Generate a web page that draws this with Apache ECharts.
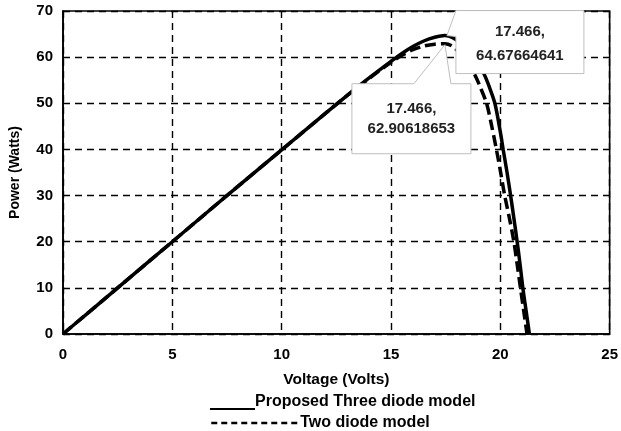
<!DOCTYPE html>
<html>
<head>
<meta charset="utf-8">
<script src="https://cdn.jsdelivr.net/npm/echarts@6/dist/echarts.min.js"></script>
<style>html,body{margin:0;padding:0;background:#fff;}#c{width:621px;height:431px;}</style>
</head>
<body>
<div id="c"></div>
<script>
// Voltage (V) and power (W)
const threeDiodeV = [0, 1, 2, 4, 6, 8, 10, 12, 13, 14, 15, 15.5, 16, 16.5, 17, 17.466, 17.8, 18.2, 18.6, 19.0, 19.27, 19.5, 19.75, 20.0, 20.13, 20.3, 20.47, 20.62, 20.77, 20.9, 21.03, 21.18, 21.33];
const threeDiodeP = [0, 4.0, 8.0, 16.0, 24.0, 32.0, 39.9, 47.8, 51.7, 55.5, 59.1, 60.8, 62.3, 63.5, 64.3, 64.67664641, 64.3, 63.0, 60.9, 58.2, 56.2, 53.5, 50.0, 43.8, 40.0, 35.2, 30.0, 25.1, 20.0, 15.2, 10.0, 5.0, 0];
const twoDiodeV = [0, 1, 2, 4, 6, 8, 10, 12, 13, 14, 15, 15.5, 16, 16.5, 17, 17.466, 17.8, 18.2, 18.5, 18.85, 19.1, 19.37, 19.6, 19.82, 20.0, 20.2, 20.42, 20.62, 20.77, 20.92, 21.07, 21.22];
const twoDiodeP = [0, 4.0, 8.0, 16.0, 24.0, 32.0, 39.9, 47.8, 51.7, 55.4, 58.9, 60.4, 61.6, 62.4, 62.8, 62.90618653, 62.4, 60.6, 58.6, 56.0, 53.3, 50.0, 45.2, 40.0, 35.4, 30.0, 25.0, 20.0, 15.1, 10.0, 5.0, 0];
const xTicks = [0, 5, 10, 15, 20, 25];
const yTicks = [0, 10, 20, 30, 40, 50, 60, 70];
const seriesNames = ['Proposed Three diode model', 'Two diode model'];
const peak3 = [17.466, 64.67664641];
const peak2 = [17.466, 62.90618653];

const FONT = 'Liberation Sans, Arial, sans-serif';
const chart = echarts.init(document.getElementById('c'));
const pair = (xs, ys) => xs.map((x, i) => [x, ys[i]]);

chart.setOption({
  animation: false,
  backgroundColor: '#fff',
  grid: { left: 59, right: 8, top: 11, bottom: 97, show: true, borderColor: '#000', borderWidth: 1.6, backgroundColor: 'transparent' },
  xAxis: {
    type: 'value', min: xTicks[0], max: xTicks[xTicks.length - 1], interval: 5,
    name: 'Voltage (Volts)', nameLocation: 'middle', nameGap: 38,
    nameTextStyle: { fontFamily: FONT, fontWeight: 'bold', fontSize: 15.5, color: '#000' },
    axisLine: { lineStyle: { color: '#000', width: 1.6 } },
    axisTick: { show: false },
    axisLabel: { fontFamily: FONT, fontWeight: 'bold', fontSize: 15, color: '#000', margin: 13 },
    splitLine: { show: true, lineStyle: { color: '#000', type: [7, 5], width: 1.4 } }
  },
  yAxis: {
    type: 'value', min: yTicks[0], max: yTicks[yTicks.length - 1], interval: 10,
    name: 'Power (Watts)', nameLocation: 'middle', nameGap: 41,
    nameTextStyle: { fontFamily: FONT, fontWeight: 'bold', fontSize: 14, color: '#000' },
    axisLine: { lineStyle: { color: '#000', width: 1.6 } },
    axisTick: { show: false },
    axisLabel: { fontFamily: FONT, fontWeight: 'bold', fontSize: 15, color: '#000', margin: 10 },
    splitLine: { show: true, lineStyle: { color: '#000', type: [7, 5], width: 1.4 } }
  },
  legend: [
    {
      data: [seriesNames[0]], left: 205, top: 389, itemWidth: 45, itemHeight: 16, itemGap: 2,
      icon: 'path://M0,0 L0.01,0 L0.01,0.01 Z M0,14 L45,14 L45,16 L0,16 Z',
      textStyle: { fontFamily: FONT, fontWeight: 'bold', fontSize: 16, color: '#000', padding: [0, 0, 0, -5] },
      itemStyle: { color: '#000' }
    },
    {
      data: [seriesNames[1]], left: 205, top: 410, itemWidth: 87, itemHeight: 14, itemGap: 2,
      textStyle: { fontFamily: FONT, fontWeight: 'bold', fontSize: 16, color: '#000', padding: [0, 0, 0, -3] },
      lineStyle: { color: '#000', width: 2.5, type: [6, 4] },
      itemStyle: { opacity: 0 }
    }
  ],
  series: [
    {
      name: seriesNames[0], type: 'line', data: pair(threeDiodeV, threeDiodeP), symbol: 'none', smooth: 0.3,
      lineStyle: { color: '#000', width: 3.5 }, itemStyle: { color: '#000' }, z: 3
    },
    {
      name: seriesNames[1], type: 'line', data: pair(twoDiodeV, twoDiodeP), symbol: 'none', smooth: 0.3,
      lineStyle: { color: '#000', width: 3.5, type: [11, 5] }, itemStyle: { color: '#000' }, z: 3
    }
  ]
});

function callouts() {
  const a1 = chart.convertToPixel({ gridIndex: 0 }, peak3);
  const a2 = chart.convertToPixel({ gridIndex: 0 }, peak2);
  const b1 = { l: a1[0] + 11, r: a1[0] + 139, t: a1[1] - 25, b: a1[1] + 38 };
  const b2 = { l: a2[0] - 93, r: a2[0] + 26, t: a2[1] + 40, b: a2[1] + 110 };
  const style = { fill: '#fff', stroke: '#bfbfbf', lineWidth: 1 };
  const txt = (x, y, s) => ({ type: 'text', x: x, y: y, z: 101, style: { text: s, fill: '#222', font: 'bold 15px ' + FONT, textAlign: 'center', textVerticalAlign: 'middle' } });
  chart.setOption({
    graphic: [
      { type: 'polygon', z: 100, shape: { points: [[b1.l, b1.t], [b1.r, b1.t], [b1.r, b1.b], [b1.l, b1.b], [b1.l, a1[1] + 1], [a1[0] + 2, a1[1]]] }, style: style },
      txt((b1.l + b1.r) / 2, b1.t + 21, peak3[0] + ','),
      txt((b1.l + b1.r) / 2, b1.t + 45, String(peak3[1])),
      { type: 'polygon', z: 100, shape: { points: [[b2.l, b2.t], [a2[0] - 31, b2.t], [a2[0], a2[1] + 1], [a2[0] + 6, b2.t], [b2.r, b2.t], [b2.r, b2.b], [b2.l, b2.b]] }, style: style },
      txt((b2.l + b2.r) / 2, b2.t + 25, peak2[0] + ','),
      txt((b2.l + b2.r) / 2, b2.t + 45, String(peak2[1]))
    ]
  });
}
callouts();
</script>
</body>
</html>
